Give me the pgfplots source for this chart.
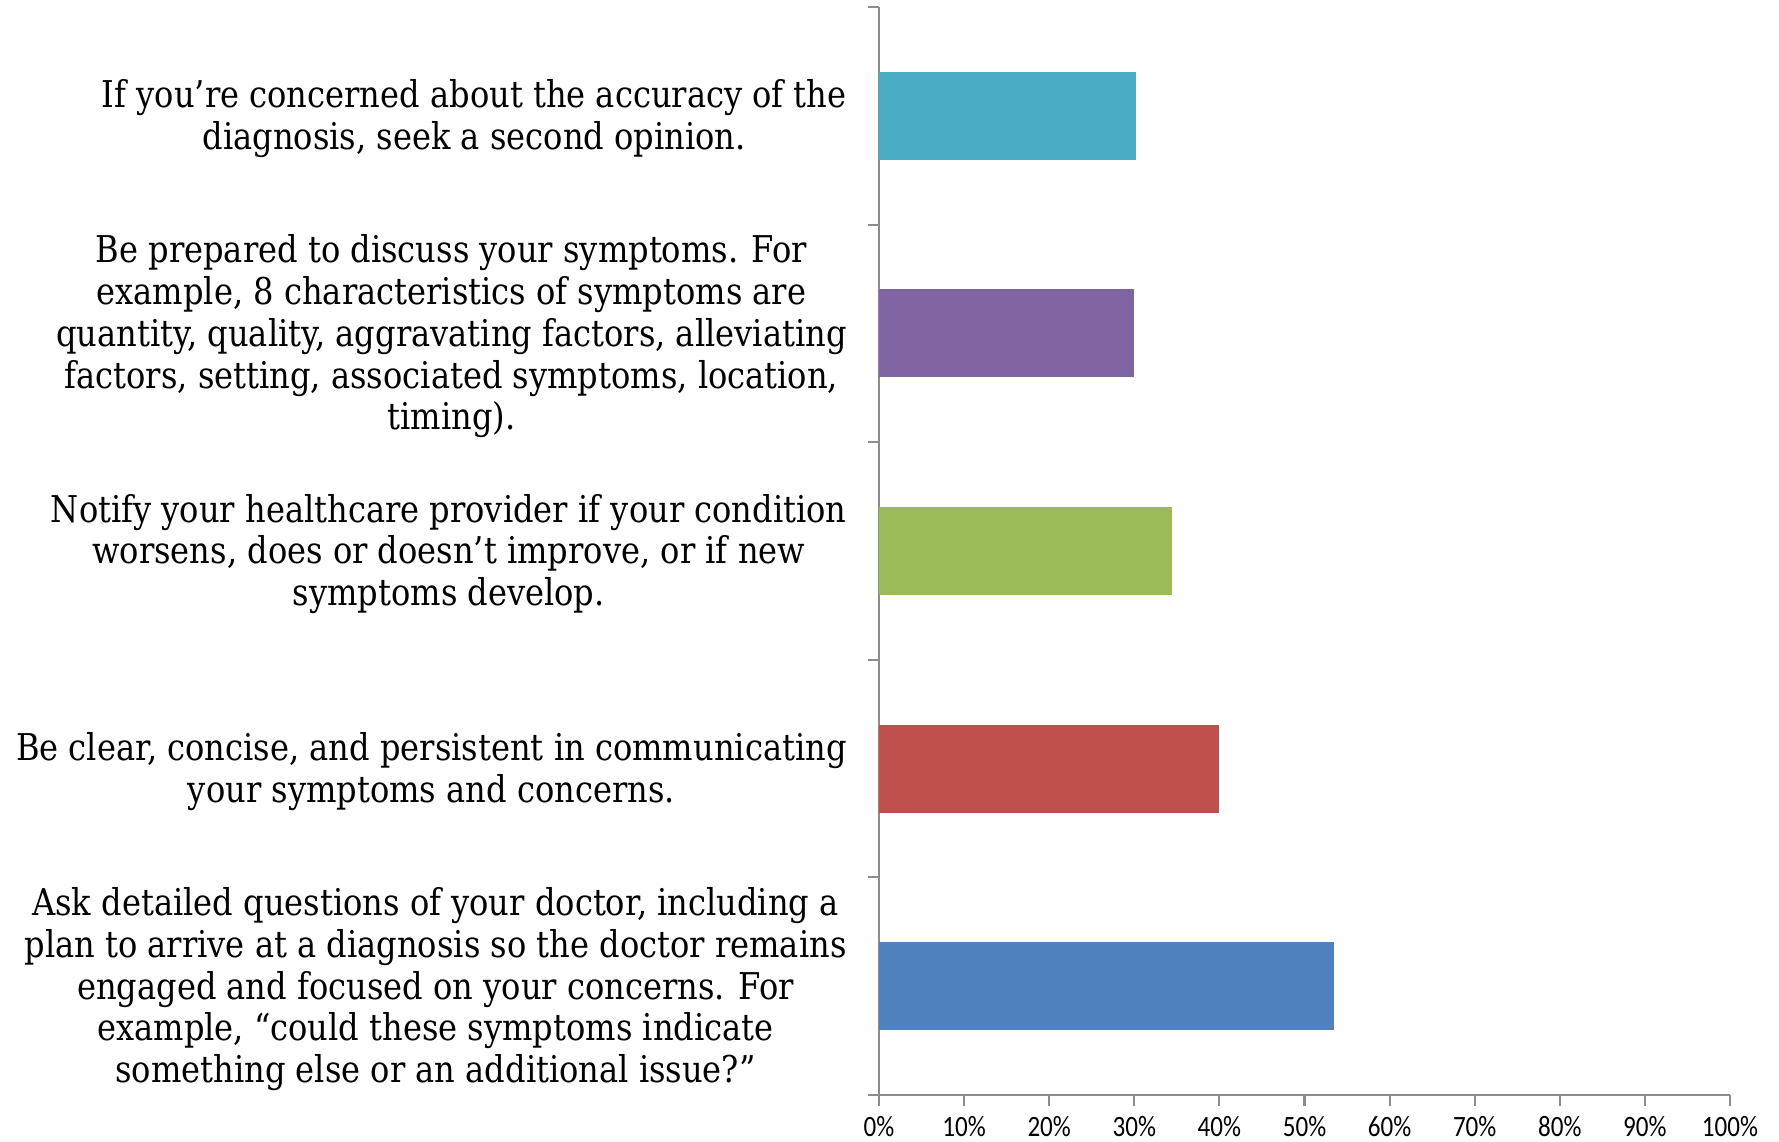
\documentclass[border=0pt]{standalone}
\usepackage{fontspec}
\usepackage{pgfplots}
\pgfplotsset{compat=1.18}
\newfontfamily\tickfont[FakeStretch=0.85]{Carlito}
\newfontfamily\labfont[FakeStretch=0.87]{DejaVu Serif}
\definecolor{axgray}{HTML}{8C8C8C}
\definecolor{c1}{HTML}{4BACC6}
\definecolor{c2}{HTML}{8064A2}
\definecolor{c3}{HTML}{9BBB59}
\definecolor{c4}{HTML}{C0504D}
\definecolor{c5}{HTML}{4F81BD}
\begin{document}
\begin{tikzpicture}
\begin{axis}[
  name=ax,
  scale only axis,
  width=85.1mm, height=108.8mm,
  xmin=0, xmax=100, ymin=-0.5, ymax=4.5,
  axis x line*=bottom, axis y line*=left,
  axis line style={draw=axgray, line width=0.6pt, -},
  xbar, bar width=8.8mm, bar shift=0pt,
  xtick={0,10,...,100},
  xticklabel={\pgfmathprintnumber{\tick}\%},
  x tick label style={font=\tickfont\fontsize{8.4}{9}\selectfont, /pgf/number format/assume math mode=true, yshift=0.2mm},
  ytick={0,1,2,3,4},
  yticklabels={
    {Ask detailed questions of your doctor, including a\\plan to arrive at a diagnosis so the doctor remains\\engaged and focused on your concerns. For\\example, “could these symptoms indicate\\something else or an additional issue?”},
    {Be clear, concise, and persistent in communicating\\your symptoms and concerns.},
    {Notify your healthcare provider if your condition\\worsens, does or doesn’t improve, or if new\\symptoms develop.},
    {Be prepared to discuss your symptoms. For\\example, 8 characteristics of symptoms are\\quantity, quality, aggravating factors, alleviating\\factors, setting, associated symptoms, location,\\timing).},
    {If you’re concerned about the accuracy of the\\diagnosis, seek a second opinion.}
  },
  y tick label style={align=center, font=\labfont\fontsize{10.5}{11.9}\selectfont, xshift=-0.9mm, yshift=-0.3mm},
  minor ytick={-0.5,0.5,1.5,2.5,3.5,4.5},
  every major y tick/.append style={draw=none},
  tick align=outside,
  major tick length=1.1mm, minor tick length=1.1mm,
  tick style={draw=axgray, line width=0.6pt},
  xtick pos=bottom, ytick pos=left,
  clip=false,
]
\addplot[fill=c5, draw=none] coordinates {(53.5,0)};
\addplot[fill=c4, draw=none] coordinates {(40.0,1)};
\addplot[fill=c3, draw=none] coordinates {(34.4,2)};
\addplot[fill=c2, draw=none] coordinates {(30.0,3)};
\addplot[fill=c1, draw=none] coordinates {(30.2,4)};
\end{axis}
\pgfresetboundingbox
\path ([shift={(-87.9mm,-4.7mm)}]ax.south west) rectangle ([shift={(4.9mm,0.7mm)}]ax.north east);
\end{tikzpicture}
\end{document}
